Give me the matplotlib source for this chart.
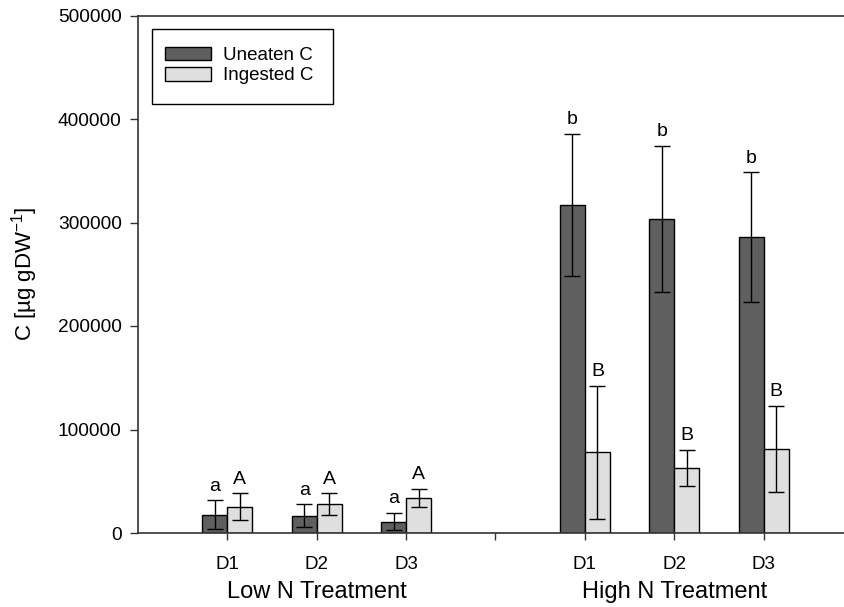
import matplotlib
matplotlib.use("Agg")
import matplotlib.pyplot as plt
from matplotlib.patches import Rectangle
import numpy as np

plt.rcParams['font.family'] = ['Liberation Sans', 'DejaVu Sans']

days = ["D1", "D2", "D3"]
groups = ["Low N Treatment", "High N Treatment"]
uneaten_low = [17700, 16700, 11000]
uneaten_low_err = [14000, 11000, 8500]
ingested_low = [25400, 27600, 33700]
ingested_low_err = [13000, 10600, 9000]
uneaten_high = [317000, 303500, 286000]
uneaten_high_err = [68700, 70500, 62500]
ingested_high = [78000, 63000, 81300]
ingested_high_err = [64400, 17200, 41500]
letters_uneaten = ["a", "a", "a", "b", "b", "b"]
letters_ingested = ["A", "A", "A", "B", "B", "B"]

positions = [0, 1, 2, 4, 5, 6]
uneaten = uneaten_low + uneaten_high
uneaten_err = uneaten_low_err + uneaten_high_err
ingested = ingested_low + ingested_high
ingested_err = ingested_low_err + ingested_high_err

W, H = 845, 607
fig = plt.figure(figsize=(W/100, H/100), dpi=100)
ax_left, ax_right, ax_top, ax_bot = 138, 853, 15.5, 533
ax = fig.add_axes([ax_left/W, 1 - ax_bot/H, (ax_right - ax_left)/W, (ax_bot - ax_top)/H])

w = 0.28
xu = np.array(positions) - w/2
xi = np.array(positions) + w/2
ax.bar(xu, uneaten, width=w, color='#5f5f5f', edgecolor='black', linewidth=1.0,
       label='Uneaten C', zorder=2)
ax.bar(xi, ingested, width=w, color='#dfdfdf', edgecolor='black', linewidth=1.0,
       label='Ingested C', zorder=2)
ax.errorbar(xu, uneaten, yerr=uneaten_err, fmt='none', ecolor='black', elinewidth=1.0,
            capsize=5.5, capthick=1.0, zorder=3)
ax.errorbar(xi, ingested, yerr=ingested_err, fmt='none', ecolor='black', elinewidth=1.0,
            capsize=5.5, capthick=1.0, zorder=3)

for x, v, e, t in zip(xu, uneaten, uneaten_err, letters_uneaten):
    ax.annotate(t, (x, v + e), xytext=(0, 4), textcoords='offset points',
                ha='center', va='bottom', fontsize=14)
for x, v, e, t in zip(xi, ingested, ingested_err, letters_ingested):
    ax.annotate(t, (x, v + e), xytext=(0, 4), textcoords='offset points',
                ha='center', va='bottom', fontsize=14)

ax.set_xlim(-1.0, 7.0)
ax.set_ylim(0, 500000)
ax.set_xticks([0, 1, 2, 3, 4, 5, 6])
ax.set_xticklabels(days + [""] + days, fontsize=13.5)
ax.set_yticks(np.arange(0, 500001, 100000))
ax.set_yticklabels([str(v) for v in range(0, 500001, 100000)], fontsize=13.8)
ax.tick_params(axis='both', direction='out', length=5.8, width=1.0, color='#333333')
ax.tick_params(axis='x', pad=11, length=5.3)
ax.tick_params(axis='y', pad=6)
ax.spines['right'].set_visible(False)
for s in ['left', 'bottom', 'top']:
    ax.spines[s].set_linewidth(1.2)
    ax.spines[s].set_color('#333333')

ax.set_ylabel(r"C [µg gDW$^{\mathregular{-1}}$]", fontsize=16)
ax.yaxis.set_label_coords((40 - ax_left)/(ax_right - ax_left), 0.5)
for gx, g in zip([1, 5], groups):
    ax.text(gx, -0.114, g, transform=ax.get_xaxis_transform(), ha='center',
            va='center', fontsize=17)

leg = fig.legend(*ax.get_legend_handles_labels(), loc='upper left',
                 bbox_to_anchor=(165/W, 1 - 46.5/H), fontsize=13.5,
                 frameon=False, handlelength=2.45, handleheight=0.7, borderpad=0,
                 labelspacing=0.2, handletextpad=0.64, borderaxespad=0)
fig.patches.append(Rectangle((152/W, 1 - 104/H), (333 - 152)/W, (104 - 29)/H,
                             transform=fig.transFigure, fill=False,
                             edgecolor='black', linewidth=1.0, zorder=5))

fig.savefig("out.png", dpi=100)
